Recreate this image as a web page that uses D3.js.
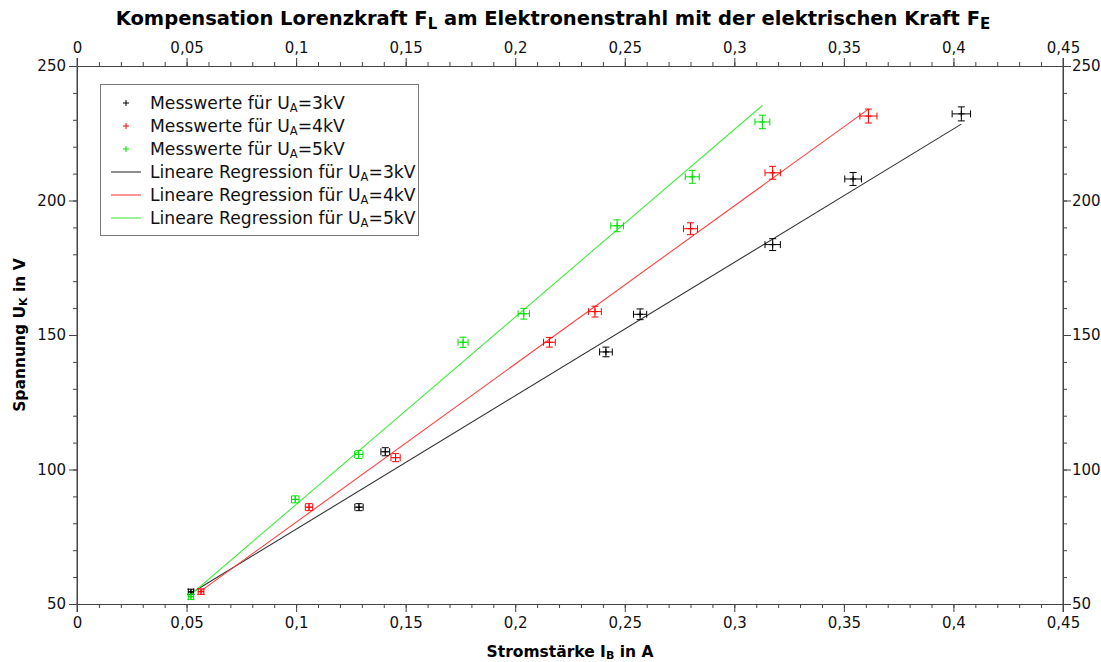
<!DOCTYPE html>
<html>
<head>
<meta charset="utf-8">
<script src="https://cdn.jsdelivr.net/npm/d3@7"></script>
<style>
  body { margin: 0; background: #fff; }
  svg { font-family: "DejaVu Sans", Verdana, sans-serif; }
</style>
</head>
<body>
<svg width="1101" height="662"></svg>
<script>
// Messwerte: Stromstärke I_B (A) und Spannung U_K (V) je Beschleunigungsspannung
const series = ["3kV", "4kV", "5kV"];
const colors = ["#000000", "#ff0000", "#00e000"];
const lineColors = ["#333333", "#ff4040", "#44ee44"];

const x3 = [0.052, 0.1287, 0.1407, 0.2414, 0.2570, 0.3175, 0.3542, 0.4036];
const y3 = [54.5, 86.0, 106.6, 143.7, 157.7, 183.6, 208.0, 232.2];
const x4 = [0.0566, 0.1059, 0.1454, 0.2156, 0.2364, 0.2800, 0.3175, 0.3612];
const y4 = [54.6, 86.0, 104.4, 147.3, 158.7, 189.5, 210.3, 231.4];
const x5 = [0.0520, 0.0996, 0.1286, 0.1762, 0.2039, 0.2465, 0.2808, 0.3128];
const y5 = [52.7, 88.9, 105.6, 147.3, 157.9, 190.6, 208.8, 229.2];

// Fehlerbalken
const xErr3 = [0.0012, 0.0019, 0.0020, 0.0029, 0.0030, 0.0035, 0.0038, 0.0042];
const yErr3 = [1.0, 1.3, 1.5, 1.8, 2.0, 2.2, 2.4, 2.6];
const xErr4 = [0.0013, 0.0017, 0.0021, 0.0027, 0.0029, 0.0032, 0.0035, 0.0039];
const yErr4 = [1.0, 1.3, 1.5, 1.8, 2.0, 2.2, 2.4, 2.6];
const xErr5 = [0.0012, 0.0017, 0.0019, 0.0023, 0.0026, 0.0029, 0.0032, 0.0034];
const yErr5 = [1.0, 1.3, 1.5, 1.9, 2.0, 2.2, 2.4, 2.5];

// Lineare Regression (Steigung, Achsenabschnitt)
const slopes = [496, 588, 697];
const intercepts = [28.2, 21.6, 17.3];

const xTicks = [0, 0.05, 0.1, 0.15, 0.2, 0.25, 0.3, 0.35, 0.4, 0.45];
const yTicks = [50, 100, 150, 200, 250];

const xs = [x3, x4, x5], ys = [y3, y4, y5];
const xErrs = [xErr3, xErr4, xErr5], yErrs = [yErr3, yErr4, yErr5];

const svg = d3.select("svg");
const plot = {left: 77, right: 1063, top: 66, bottom: 604};

const x = d3.scaleLinear().domain([0, 0.45]).range([plot.left, plot.right]);
const y = d3.scaleLinear().domain([50, 250]).range([plot.bottom, plot.top]);

const de = d3.formatLocale({decimal: ",", thousands: ".", grouping: [3], currency: ["", "€"]});
const fmt = de.format("~g");

const xMinor = d3.range(0, 0.4501, 0.01);
const yMinor = d3.range(50, 250.1, 10);

function styleAxis(g) {
  g.selectAll("path.domain").attr("stroke", "#444");
  g.selectAll("line").attr("stroke", "#444");
  g.selectAll("text").attr("font-size", 15).attr("fill", "#111")
    .attr("font-family", "DejaVu Sans, Verdana, sans-serif");
}

function drawAxis(axisFn, scale, ticks, minor, transform, pad) {
  svg.append("g").attr("transform", transform)
    .call(axisFn(scale).tickValues(minor).tickSize(4).tickFormat("").tickSizeOuter(0))
    .call(styleAxis);
  svg.append("g").attr("transform", transform)
    .call(axisFn(scale).tickValues(ticks).tickSize(8).tickPadding(pad).tickFormat(fmt).tickSizeOuter(0))
    .call(styleAxis)
    .call(g => g.select("path.domain").remove());
}

drawAxis(d3.axisBottom, x, xTicks, xMinor, `translate(0,${plot.bottom})`, 5);
drawAxis(d3.axisTop, x, xTicks, xMinor, `translate(0,${plot.top})`, 5);
drawAxis(d3.axisLeft, y, yTicks, yMinor, `translate(${plot.left},0)`, 3);
drawAxis(d3.axisRight, y, yTicks, yMinor, `translate(${plot.right},0)`, 1);

// Achsenlinien etwas über die Ecken verlängern
svg.append("g").attr("stroke", "#444")
  .selectAll("line")
  .data([plot.left, plot.right])
  .join("line")
  .attr("x1", d => d).attr("x2", d => d)
  .attr("y1", plot.top - 8).attr("y2", plot.bottom + 8);

// Titel
const title = svg.append("text")
  .attr("x", 553).attr("y", 25)
  .attr("text-anchor", "middle")
  .attr("font-size", 19.5).attr("font-weight", "bold");
title.append("tspan").text("Kompensation Lorenzkraft F");
title.append("tspan").attr("dy", 4).attr("font-size", 15).text("L");
title.append("tspan").attr("dy", -4).text(" am Elektronenstrahl mit der elektrischen Kraft F");
title.append("tspan").attr("dy", 4).attr("font-size", 15).text("E");

// Achsenbeschriftungen
const xl = svg.append("text")
  .attr("x", 570).attr("y", 657)
  .attr("text-anchor", "middle")
  .attr("font-size", 15.5).attr("font-weight", "bold");
xl.append("tspan").text("Stromstärke I");
xl.append("tspan").attr("dy", 2).attr("font-size", 11).text("B");
xl.append("tspan").attr("dy", -2).text(" in A");

const yl = svg.append("text")
  .attr("transform", `translate(25,${(plot.top + plot.bottom) / 2}) rotate(-90)`)
  .attr("text-anchor", "middle")
  .attr("font-size", 15.5).attr("font-weight", "bold");
yl.append("tspan").text("Spannung U");
yl.append("tspan").attr("dy", 2).attr("font-size", 11).text("K");
yl.append("tspan").attr("dy", -2).text(" in V");

// Regressionsgeraden
series.forEach((s, i) => {
  const [x0, x1] = d3.extent(xs[i]);
  svg.append("line")
    .attr("x1", x(x0)).attr("y1", y(intercepts[i] + slopes[i] * x0))
    .attr("x2", x(x1)).attr("y2", y(intercepts[i] + slopes[i] * x1))
    .attr("stroke", lineColors[i]).attr("stroke-width", 1.1);
});

// Messpunkte mit Fehlerbalken
const cap = 3.5;
series.forEach((s, i) => {
  const pts = xs[i].map((v, k) => ({x: v, y: ys[i][k], ex: xErrs[i][k], ey: yErrs[i][k]}));
  svg.append("g").selectAll("path")
    .data(pts)
    .join("path")
    .attr("fill", "none")
    .attr("stroke", colors[i])
    .attr("stroke-width", 1)
    .attr("d", d => {
      const cx = x(d.x), cy = y(d.y);
      const xa = x(d.x - d.ex), xb = x(d.x + d.ex);
      const ya = y(d.y + d.ey), yb = y(d.y - d.ey);
      return `M${xa},${cy}H${xb}M${xa},${cy - cap}V${cy + cap}M${xb},${cy - cap}V${cy + cap}` +
             `M${cx},${ya}V${yb}M${cx - cap},${ya}H${cx + cap}M${cx - cap},${yb}H${cx + cap}` +
             `M${cx - 3},${cy}H${cx + 3}M${cx},${cy - 3}V${cy + 3}`;
    });
});

// Legende
const legend = svg.append("g");
legend.append("rect")
  .attr("x", 100.5).attr("y", 84.5).attr("width", 318).attr("height", 151)
  .attr("fill", "#fff").attr("stroke", "#777");

const legendRows = [
  ...series.map((s, i) => ({label: "Messwerte für U", kv: s, color: colors[i], type: "point"})),
  ...series.map((s, i) => ({label: "Lineare Regression für U", kv: s, color: lineColors[i], type: "line"}))
];

legendRows.forEach((r, i) => {
  const cy = 103 + i * 23;
  if (r.type === "point") {
    legend.append("path")
      .attr("d", `M123,${cy}H129M126,${cy - 3}V${cy + 3}`)
      .attr("stroke", r.color).attr("stroke-width", 1);
  } else {
    legend.append("line")
      .attr("x1", 111).attr("x2", 141).attr("y1", cy).attr("y2", cy)
      .attr("stroke", r.color).attr("stroke-width", 1.1);
  }
  const t = legend.append("text")
    .attr("x", 150).attr("y", cy + 6)
    .attr("font-size", 17.2).attr("fill", "#111");
  t.append("tspan").text(r.label);
  t.append("tspan").attr("dy", 3).attr("font-size", 11.5).text("A");
  t.append("tspan").attr("dy", -3).text("=" + r.kv);
});
</script>
</body>
</html>
